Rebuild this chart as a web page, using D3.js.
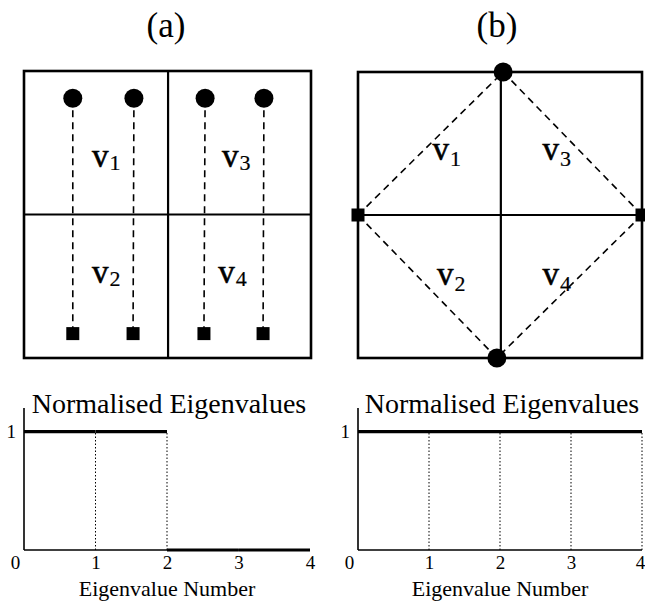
<!DOCTYPE html>
<html>
<head>
<meta charset="utf-8">
<script src="https://cdn.jsdelivr.net/npm/d3@7/dist/d3.min.js"></script>
<style>
  html, body { margin: 0; padding: 0; background: #fff; }
  svg { display: block; }
  text { font-family: "Liberation Serif", "Times New Roman", serif; fill: #000; }
</style>
</head>
<body>
<svg id="fig" width="645" height="602"></svg>
<script>
// ---- data -------------------------------------------------------------
// Grid (a): four sources (circles) and four sinks (squares), unit-square coords
const gridACircles = [[0.170, 0.905], [0.383, 0.905], [0.631, 0.905], [0.836, 0.905]];
const gridASquares = [[0.170, 0.085], [0.380, 0.085], [0.627, 0.085], [0.833, 0.085]];
// Grid (b): two sources on top/bottom edges, two sinks on left/right edges
const gridBCircles = [[0.511, 1.0], [0.489, 0.0]];
const gridBSquares = [[0.0, 0.5], [1.0, 0.5]];
// Region labels v1..v4 (subscripts)
const regionNames = ["1", "2", "3", "4"];
// Normalised eigenvalues for each configuration
const eigenA = [1, 1, 0, 0];
const eigenB = [1, 1, 1, 1];
const eigenTicks = [0, 1, 2, 3, 4];
const eigenYTicks = [1];
const panelTitles = ["(a)", "(b)"];

const svg = d3.select("#fig");
svg.append("rect").attr("width", 645).attr("height", 602).attr("fill", "#fff");

// ---- grid panels --------------------------------------------------------
function drawGrid(opts) {
  const x = d3.scaleLinear([0, 1], [opts.left, opts.right]);
  const y = d3.scaleLinear([0, 1], [opts.bottom, opts.top]);
  const g = svg.append("g");

  g.append("text")
    .attr("x", opts.titleX).attr("y", 37)
    .attr("text-anchor", "middle")
    .attr("font-size", 35)
    .text(opts.title);

  // connecting dashed paths
  g.selectAll("line.link")
    .data(opts.links)
    .join("line")
    .attr("x1", d => x(d[0][0])).attr("y1", d => y(d[0][1]))
    .attr("x2", d => x(d[1][0])).attr("y2", d => y(d[1][1]))
    .attr("stroke", "#000").attr("stroke-width", 1.6)
    .attr("stroke-dasharray", "7,5");

  // outer frame and quadrant dividers
  g.append("rect")
    .attr("x", x(0)).attr("y", y(1))
    .attr("width", x(1) - x(0)).attr("height", y(0) - y(1))
    .attr("fill", "none").attr("stroke", "#000").attr("stroke-width", 2.6);
  g.append("line")
    .attr("x1", x(opts.midX)).attr("x2", x(opts.midX))
    .attr("y1", y(0)).attr("y2", y(1))
    .attr("stroke", "#000").attr("stroke-width", 2.2);
  g.append("line")
    .attr("x1", x(0)).attr("x2", x(1))
    .attr("y1", y(0.5)).attr("y2", y(0.5))
    .attr("stroke", "#000").attr("stroke-width", 2.2);

  // region labels
  opts.labelPos.forEach((p, i) => {
    const t = g.append("text")
      .attr("x", x(p[0])).attr("y", y(p[1]))
      .attr("font-size", 33)
      .attr("stroke", "#000").attr("stroke-width", 0.6);
    t.append("tspan").text("v");
    t.append("tspan").attr("font-size", 22).attr("dx", 1).attr("dy", opts.subDy)
      .attr("stroke-width", 0.2)
      .text(regionNames[i]);
  });

  g.selectAll("circle.src")
    .data(opts.circles)
    .join("circle")
    .attr("cx", d => x(d[0])).attr("cy", d => y(d[1]))
    .attr("r", 9.5).attr("fill", "#000");

  const s = 13;
  g.selectAll("rect.sink")
    .data(opts.squares)
    .join("rect")
    .attr("x", d => x(d[0]) - s / 2).attr("y", d => y(d[1]) - s / 2)
    .attr("width", s).attr("height", s).attr("fill", "#000");
}

drawGrid({
  title: panelTitles[0], titleX: 166,
  left: 24, right: 311, top: 71, bottom: 358, midX: 0.502,
  circles: gridACircles, squares: gridASquares,
  links: gridACircles.map((c, i) => [c, gridASquares[i]]),
  labelPos: [[0.237, 0.665], [0.237, 0.262], [0.69, 0.665], [0.677, 0.262]],
  subDy: 3
});

drawGrid({
  title: panelTitles[1], titleX: 497,
  left: 358, right: 642, top: 72, bottom: 358, midX: 0.503,
  circles: gridBCircles, squares: gridBSquares,
  links: [
    [gridBSquares[0], gridBCircles[0]],
    [gridBCircles[0], gridBSquares[1]],
    [gridBSquares[1], gridBCircles[1]],
    [gridBCircles[1], gridBSquares[0]]
  ],
  labelPos: [[0.262, 0.692], [0.278, 0.256], [0.65, 0.692], [0.65, 0.256]],
  subDy: 6
});

// ---- eigenvalue plots ---------------------------------------------------
function drawEigen(values, left, right) {
  const x = d3.scaleLinear([0, 4], [left, right]);
  const y = d3.scaleLinear([0, 1.2], [550, 408]);
  const g = svg.append("g");
  const cx = (left + right) / 2;

  g.append("text")
    .attr("x", cx + 2).attr("y", 413)
    .attr("text-anchor", "middle").attr("font-size", 28)
    .text("Normalised Eigenvalues");

  // axes lines
  g.append("line")
    .attr("x1", x(0)).attr("x2", x(0)).attr("y1", y(0)).attr("y2", y(1.2))
    .attr("stroke", "#000").attr("stroke-width", 1.6);
  g.append("line")
    .attr("x1", x(0)).attr("x2", x(4)).attr("y1", y(0)).attr("y2", y(0))
    .attr("stroke", "#000").attr("stroke-width", 1.6);

  // dotted drop lines at each eigenvalue index
  g.selectAll("line.drop")
    .data(values.map((v, i) => ({ n: i + 1, v })).filter(d => d.v > 0))
    .join("line")
    .attr("x1", d => x(d.n)).attr("x2", d => x(d.n))
    .attr("y1", y(0)).attr("y2", d => y(d.v))
    .attr("stroke", "#000").attr("stroke-width", 1)
    .attr("stroke-dasharray", "1.5,2");

  // eigenvalue levels
  g.selectAll("line.level")
    .data(values.map((v, i) => ({ n: i + 1, v })))
    .join("line")
    .attr("x1", d => x(d.n - 1)).attr("x2", d => x(d.n))
    .attr("y1", d => y(d.v)).attr("y2", d => y(d.v))
    .attr("stroke", "#000").attr("stroke-width", 3.2);

  // tick labels
  const ax = g.append("g")
    .attr("transform", `translate(0,${y(0)})`)
    .call(d3.axisBottom(x).tickValues(eigenTicks).tickSize(0).tickPadding(6)
      .tickFormat(d3.format("d")));
  ax.select(".domain").remove();
  ax.selectAll("text")
    .attr("font-family", "Liberation Serif").attr("font-size", 19)
    .attr("fill", "#000")
    .attr("dx", d => d === 0 ? -9 : (d === 4 && right > 640 ? -2 : 0));

  const ay = g.append("g")
    .attr("transform", `translate(${x(0)},0)`)
    .call(d3.axisLeft(y).tickValues(eigenYTicks).tickSize(0).tickPadding(8)
      .tickFormat(d3.format("d")));
  ay.select(".domain").remove();
  ay.selectAll("text")
    .attr("font-family", "Liberation Serif").attr("font-size", 19)
    .attr("fill", "#000");

  g.append("text")
    .attr("x", cx).attr("y", 596)
    .attr("text-anchor", "middle").attr("font-size", 22)
    .text("Eigenvalue Number");
}

drawEigen(eigenA, 24, 310);
drawEigen(eigenB, 358, 642);
</script>
</body>
</html>
